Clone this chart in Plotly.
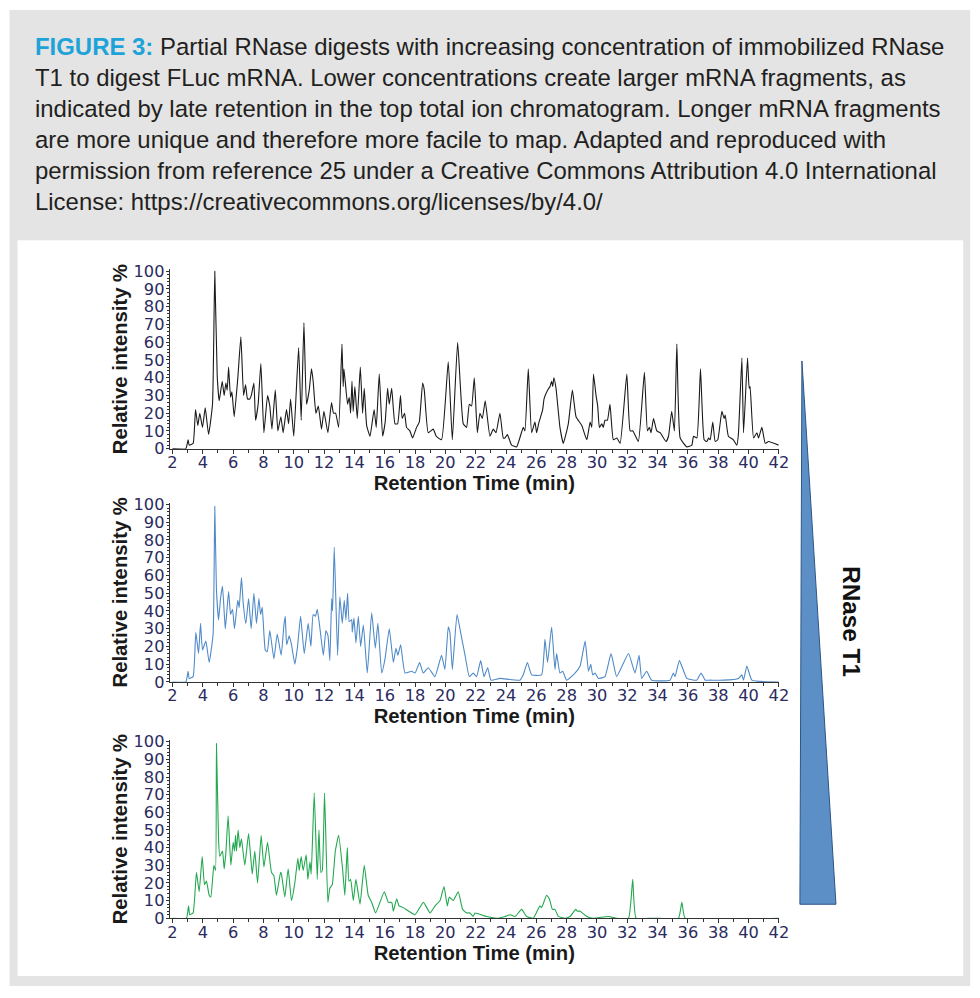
import plotly.graph_objects as go

W, H = 980, 998

# ---------------- data ----------------
x_ticks = list(range(2, 43, 2))
y_ticks = list(range(0, 101, 10))

# Top trace (lowest RNase T1 concentration) - black
t_top = [2.0, 2.88, 3.03, 3.1, 3.36, 3.52, 3.67, 3.8, 3.98, 4.16, 4.38, 4.64, 4.79, 4.95, 5.08, 5.28,
         5.41, 5.52, 5.61, 5.70, 5.83, 5.92, 6.07, 6.31, 6.51, 6.69, 6.82, 6.95, 7.1, 7.2, 7.37, 7.48,
         7.65, 7.83, 8.03, 8.27, 8.42, 8.56, 8.78, 8.95, 9.15, 9.3, 9.52, 9.66, 9.79, 10.0, 10.32, 10.49,
         10.67, 10.84, 11.02, 11.17, 11.28, 11.46, 11.62, 11.83, 11.99, 12.25, 12.49, 12.62, 12.76, 12.96,
         13.18, 13.26, 13.31, 13.55, 13.66, 13.75, 13.84, 13.92, 14.03, 14.19, 14.39, 14.54, 14.65, 14.81,
         15.03, 15.3, 15.44, 15.64, 15.86, 16.03, 16.19, 16.3, 16.46, 16.68, 16.85, 17.04, 17.15, 17.31,
         17.44, 17.66, 17.84, 18.1, 18.28, 18.5, 18.61, 18.87, 19.2, 19.4, 19.75, 20.19, 20.46, 20.81,
         21.18, 21.4, 21.58, 21.73, 21.91, 22.11, 22.28, 22.44, 22.63, 22.94, 23.16, 23.34, 23.6, 23.82,
         23.93, 24.09, 24.37, 24.7, 25.14, 25.25, 25.47, 25.69, 25.91, 26.02, 26.15, 26.42, 26.51, 26.75,
         26.9, 27.01, 27.08, 27.16, 27.3, 27.56, 27.78, 28.11, 28.38, 28.62, 29.0, 29.33, 29.55, 29.66,
         29.77, 29.94, 30.05, 30.16, 30.32, 30.42, 30.53, 30.69, 30.86, 31.08, 31.31, 31.53, 31.97, 32.19,
         32.37, 32.73, 33.13, 33.33, 33.46, 33.57, 33.73, 33.95, 34.17, 34.56, 34.72, 34.93, 35.11, 35.27,
         35.49, 35.93, 36.26, 36.37, 36.59, 36.83, 37.07, 37.25, 37.36, 37.47, 37.64, 37.8, 37.97, 38.24,
         38.39, 38.46, 38.67, 39.0, 39.23, 39.33, 39.56, 39.67, 39.93, 40.04, 40.1, 40.33, 40.55, 40.66,
         40.88, 41.1, 41.32, 41.98]
i_top = [0, 0, 5, 2, 3, 22, 13, 20, 12, 23, 8, 25, 100, 41, 27, 38,
         30, 37, 33, 46, 29, 32, 18, 40, 63, 30, 36, 28, 28, 30, 37, 16,
         25, 48, 9, 30, 24, 11, 33, 10, 18, 9, 22, 14, 28, 7, 57, 16,
         71, 25, 33, 45, 38, 20, 24, 11, 21, 9, 26, 20, 20, 12,
         59, 35, 45, 25, 29, 20, 38, 21, 35, 17, 46, 20, 34, 13,
         7, 22, 12, 42, 7, 15, 34, 25, 34, 14, 14, 30, 17, 20,
         12, 10, 6, 12, 15, 37, 33, 9, 11, 7, 5, 49, 5, 60,
         14, 12, 25, 24, 40, 9, 20, 17, 27, 7, 11, 9, 20, 6,
         6, 8, 2, 1, 12, 10, 45, 9, 15, 9, 14, 22, 28, 33,
         35, 38, 35, 40, 34, 12, 3, 14, 33, 18, 13, 5, 15, 12,
         42, 30, 24, 12, 14, 12, 16, 16, 25, 5, 6, 3, 42, 10,
         10, 4, 43, 10, 12, 9, 17, 10, 9, 4, 7, 21, 10, 59,
         6, 1, 2, 7, 6, 45, 5, 4, 6, 5, 15, 4, 5, 21,
         17, 19, 7, 5, 2, 8, 51, 9, 51, 34, 35, 6, 9, 6,
         12, 3, 4, 2]

# Middle trace - blue
t_mid = [2.0, 2.88, 3.03, 3.1, 3.36, 3.54, 3.72, 3.85, 3.98, 4.2, 4.42, 4.68, 4.79, 4.9, 5.04, 5.17,
         5.3, 5.48, 5.56, 5.7, 5.83, 5.96, 6.09, 6.22, 6.31, 6.4, 6.55, 6.66, 6.84, 7.02, 7.19, 7.37,
         7.54, 7.7, 7.81, 7.92, 8.12, 8.25, 8.42, 8.69, 8.91, 9.17, 9.35, 9.44, 9.53, 9.7, 9.85, 10.07,
         10.25, 10.45, 10.69, 10.95, 11.13, 11.28, 11.43, 11.55, 11.73, 11.95, 12.12, 12.26, 12.38, 12.5,
         12.56, 12.67, 12.89, 13.04, 13.2, 13.33, 13.44, 13.55, 13.66, 13.82, 13.86, 13.97, 14.1, 14.26,
         14.41, 14.59, 14.85, 15.14, 15.38, 15.55, 15.8, 16.02, 16.3, 16.57, 16.74, 16.87, 17.05, 17.34,
         17.78, 18.0, 18.3, 18.54, 18.87, 19.31, 19.75, 19.97, 20.19, 20.3, 20.46, 20.77, 21.07, 21.3,
         21.58, 21.84, 22.06, 22.33, 22.55, 22.79, 23.01, 23.6, 24.92, 25.14, 25.41, 25.69, 26.35, 26.57,
         26.74, 27.01, 27.23, 27.34, 27.56, 27.74, 28.0, 28.55, 28.89, 29.22, 29.44, 29.59, 29.72, 29.88,
         30.1, 30.53, 30.93, 31.3, 32.08, 32.51, 32.78, 32.95, 33.28, 33.61, 34.82, 35.04, 35.15, 35.44,
         35.93, 36.58, 36.87, 37.14, 37.47, 38.35, 39.34, 39.56, 39.67, 39.89, 40.22, 42.0]
i_mid = [0, 0, 6, 2, 3, 28, 16, 33, 18, 23, 11, 27, 99, 52, 35, 47,
         54, 30, 37, 51, 38, 41, 30, 40, 46, 42, 59, 45, 33, 47, 30, 50,
         33, 47, 38, 42, 18, 17, 29, 13, 27, 15, 32, 37, 21, 26, 21, 10,
         20, 37, 16, 33, 20, 38, 37, 41, 30, 15, 29, 26, 12, 47,
         40, 76, 15, 48, 33, 46, 35, 50, 34, 35, 28, 36, 22, 37,
         20, 32, 5, 39, 19, 33, 5, 13, 30, 11, 19, 15, 21, 5,
         6, 5, 11, 5, 8, 3, 15, 7, 31, 28, 7, 38, 25, 15,
         3, 5, 3, 12, 3, 8, 1, 2, 1, 4, 11, 4, 4, 24,
         11, 31, 7, 16, 5, 6, 1, 5, 9, 23, 6, 10, 4, 5,
         2, 3, 16, 3, 16, 5, 15, 2, 6, 1, 1, 5, 3, 12,
         2, 1, 5, 1, 1, 1, 2, 4, 1, 9, 1, 0]

# Bottom trace (highest RNase T1 concentration) - green
t_bot = [2.0, 2.92, 3.06, 3.14, 3.36, 3.58, 3.76, 3.96, 4.11, 4.24, 4.42, 4.53, 4.73, 4.84, 4.9, 5.04,
         5.12, 5.3, 5.41, 5.52, 5.67, 5.85, 6.0, 6.09, 6.16, 6.22, 6.33, 6.44, 6.55, 6.77, 7.02, 7.26,
         7.43, 7.61, 7.85, 8.03, 8.27, 8.53, 8.69, 8.86, 9.13, 9.19, 9.41, 9.63, 9.85, 10.07, 10.27, 10.36,
         10.49, 10.62, 10.82, 10.93, 11.07, 11.15, 11.35, 11.55, 11.66, 11.79, 11.88, 12.03, 12.25, 12.38,
         12.54, 12.74, 12.96, 13.22, 13.37, 13.53, 13.64, 13.75, 13.93, 14.1, 14.37, 14.65, 14.91, 15.14,
         15.4, 15.97, 16.24, 16.46, 16.57, 16.79, 16.94, 17.23, 18.0, 18.55, 18.99, 19.32, 19.65, 19.91,
         20.13, 20.26, 20.52, 20.85, 21.14, 21.4, 21.62, 21.84, 21.95, 22.72, 23.49, 23.93, 24.27, 24.6,
         25.03, 25.36, 25.8, 26.24, 26.35, 26.68, 26.86, 27.06, 27.23, 27.45, 27.89, 28.22, 28.6, 28.71,
         28.89, 29.33, 29.76, 30.76, 31.3, 32.08, 32.36, 32.58, 33.73, 35.38, 35.6, 35.82, 42.0]
i_bot = [0, 0, 7, 2, 3, 26, 15, 35, 19, 21, 13, 12, 30, 27, 99, 44,
         35, 38, 28, 37, 58, 30, 43, 38, 47, 38, 50, 40, 45, 30, 48, 25,
         38, 20, 47, 29, 43, 26, 24, 13, 26, 25, 12, 28, 10, 20, 34, 27,
         35, 27, 36, 22, 32, 25, 71, 22, 50, 26, 27, 71, 9, 17,
         19, 38, 47, 28, 13, 40, 21, 22, 10, 22, 8, 30, 13, 9,
         3, 15, 9, 9, 4, 11, 7, 6, 2, 9, 3, 7, 10, 18,
         7, 12, 10, 15, 5, 3, 3, 1, 3, 1, 0, 1, 2, 1,
         5, 1, 0, 7, 6, 13, 11, 5, 5, 1, 0, 1, 5, 4,
         4, 1, 0, 1, 0, 0, 22, 0, 0, 0, 9, 0, 0]

series_names = ["Low RNase T1", "Medium RNase T1", "High RNase T1"]
series_colors = ["#1a1a1a", "#4f8ac8", "#22a84f"]

caption_lines = [
    "<b><span style='color:#1ea3d9'>FIGURE 3:</span></b> Partial RNase digests with increasing concentration of immobilized RNase",
    "T1 to digest FLuc mRNA. Lower concentrations create larger mRNA fragments, as",
    "indicated by late retention in the top total ion chromatogram. Longer mRNA fragments",
    "are more unique and therefore more facile to map. Adapted and reproduced with",
    "permission from reference 25 under a Creative Commons Attribution 4.0 International",
    "License: https://creativecommons.org/licenses/by/4.0/",
]

assert len(t_top) == len(i_top) and len(t_mid) == len(i_mid) and len(t_bot) == len(i_bot)

# ---------------- helpers ----------------
# the photographed page is slightly offset / scaled; map target-image pixels to figure pixels
SX, OX = 0.986, 10.5
SY, OY = 0.985, 14.0
FS = 1.0 / SX


def px(x):
    return ((x - OX) / SX) / W


def py(y):
    return 1 - ((y - OY) / SY) / H


X_LO, X_HI = 1.82, 42.0
Y_HI = 101


def xdom(p2, p42):
    per = (p42 - p2) / 40.0
    return [px(p2 - (2 - X_LO) * per), px(p42 + (X_HI - 42) * per)]


def ydom(p0, p100):
    per = (p0 - p100) / 100.0
    return [py(p0), py(p0 - Y_HI * per)]


# ---------------- figure ----------------
fig = go.Figure()
traces = [(t_top, i_top), (t_mid, i_mid), (t_bot, i_bot)]
for k, (tt, ii) in enumerate(traces):
    sfx = "" if k == 0 else str(k + 1)
    fig.add_trace(go.Scatter(
        x=tt, y=ii, mode="lines", name=series_names[k],
        line=dict(color=series_colors[k], width=1.1, shape="spline", smoothing=0.4),
        xaxis="x" + sfx, yaxis="y" + sfx, showlegend=False, hoverinfo="skip",
    ))

tick_font = dict(family="DejaVu Sans", size=16 * FS, color="#2b2b5e")
title_font = dict(family="Liberation Sans, Arial", size=20 * FS, color="#1a1a1a", weight="bold")

xd = xdom(172.7, 778)
ypix = [(448, 270), (682, 504), (919, 742)]

layout = dict(
    width=W, height=H, margin=dict(l=0, r=0, t=0, b=0),
    paper_bgcolor="white", plot_bgcolor="rgba(0,0,0,0)", showlegend=False,
)
for k in range(3):
    sfx = "" if k == 0 else str(k + 1)
    layout["xaxis" + sfx] = dict(
        domain=xd, anchor="y" + sfx, range=[X_LO, X_HI],
        tickmode="array", tickvals=x_ticks, ticktext=[str(v) for v in x_ticks],
        ticks="outside", ticklen=4, tickwidth=1, tickcolor="#333333",
        minor=dict(dtick=1, tick0=0, ticks="outside", ticklen=3, tickcolor="#333333"),
        showline=True, linecolor="#333333", linewidth=1, showgrid=False, zeroline=False,
        tickfont=tick_font, ticklabelstandoff=-5,
        title=dict(text="Retention Time (min)", font=title_font, standoff=0),
    )
    layout["yaxis" + sfx] = dict(
        domain=ydom(*ypix[k]), anchor="x" + sfx, range=[0, Y_HI],
        tickmode="array", tickvals=y_ticks, ticktext=[str(v) for v in y_ticks],
        ticks="outside", ticklen=3, tickwidth=1, tickcolor="#333333",
        minor=dict(dtick=2, tick0=0, ticks="outside", ticklen=2, tickcolor="#333333"),
        showline=True, linecolor="#333333", linewidth=1, showgrid=False, zeroline=False,
        tickfont=tick_font, ticklabelstandoff=-2,
        title=dict(text="Relative intensity %", font=title_font, standoff=0),
    )

shapes = [
    # outer gray frame / caption background
    dict(type="rect", xref="paper", yref="paper", x0=px(10), x1=px(969), y0=py(987), y1=py(8),
         fillcolor="#e4e4e4", line=dict(width=0), layer="below"),
    # white chart panel
    dict(type="rect", xref="paper", yref="paper", x0=px(18), x1=px(962), y0=py(977), y1=py(239),
         fillcolor="white", line=dict(width=0), layer="below"),
    # concentration wedge
    dict(type="path", xref="paper", yref="paper",
         path=f"M {px(801)},{py(360)} L {px(799)},{py(905)} L {px(835)},{py(905)} Z",
         fillcolor="#5b8fc6", line=dict(color="#2d5686", width=1), layer="above"),
]
layout["shapes"] = shapes

annotations = []
for n, line in enumerate(caption_lines):
    annotations.append(dict(
        text=line, xref="paper", yref="paper", x=px(33), y=py(45 + 31 * n),
        xanchor="left", yanchor="middle", showarrow=False, align="left",
        font=dict(family="Liberation Sans, Arial", size=23.6 * FS, color="#231f20"),
    ))
annotations.append(dict(
    text="<b>RNase T1</b>", xref="paper", yref="paper", x=px(851), y=py(622),
    xanchor="center", yanchor="middle", showarrow=False, textangle=90,
    font=dict(family="Liberation Sans, Arial", size=24 * FS, color="#111111"),
))
layout["annotations"] = annotations

fig.update_layout(**layout)
fig.write_html("out.html")
